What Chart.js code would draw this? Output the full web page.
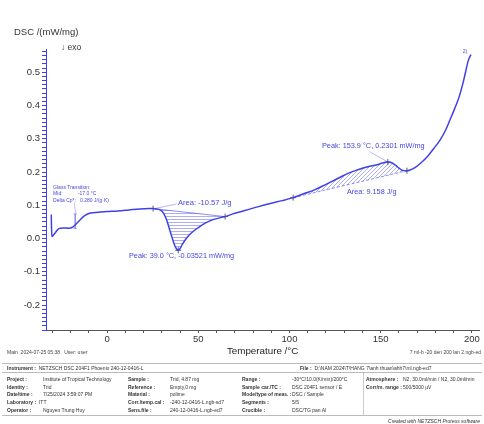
<!DOCTYPE html>
<html>
<head>
<meta charset="utf-8">
<script src="https://cdn.jsdelivr.net/npm/chart.js@4.4.1/dist/chart.umd.min.js"></script>
<style>
  body { margin: 0; background: #fff; font-family: "Liberation Sans", Arial, sans-serif; }
  #wrap { position: relative; width: 484px; height: 424px; overflow: hidden; }
  #box { position: absolute; left: 0; top: 0; width: 484px; height: 362px; }
  .t { position: absolute; white-space: nowrap; color: #222; }
  .small { font-size: 5px; color: #444; }
  .info { position: absolute; left: 0; top: 362px; width: 484px; height: 62px; font-size: 5px; color: #333; }
  .info .t { color: #333; }
  .info b { font-weight: bold; }
  .rule { position: absolute; left: 2px; width: 480px; height: 0; border-top: 1px solid #bbb; }
</style>
</head>
<body>
<div id="wrap">
  <div id="box"><canvas id="dscChart"></canvas></div>
  <div class="t" style="left:14px;top:26px;font-size:9.5px;color:#333;">DSC /(mW/mg)</div>
  <div class="t" style="left:61px;top:42px;font-size:8.5px;color:#333;">&#8595; exo</div>
  <div class="t small" style="left:7px;top:349px;">Main&nbsp;&nbsp;2024-07-25 05:38&nbsp;&nbsp;&nbsp;User: user</div>
  <div class="t small" style="right:3px;top:349px;">7 ml-b -20 den 200 lan 2.ngb-ed</div>
  <div class="info">
    <div class="rule" style="top:1px;"></div>
    <div class="t" style="left:7px;top:3px;"><b>Instrument :</b>&nbsp; NETZSCH DSC 204F1 Phoenix 240-12-0416-L</div>
    <div class="t" style="left:300px;top:3px;"><b>File :</b>&nbsp; D:\NAM 2024\T\HANG 7\anh thuan\ahh7\ml.ngb-ed7</div>
    <div class="rule" style="top:10px;"></div>
    <div class="t" style="left:7px;top:14px;"><b>Project :</b></div>
    <div class="t" style="left:43px;top:14px;">Institute of Tropical Technology</div>
    <div class="t" style="left:7px;top:22px;"><b>Identity :</b></div>
    <div class="t" style="left:43px;top:22px;">Trid</div>
    <div class="t" style="left:7px;top:29px;"><b>Date/time :</b></div>
    <div class="t" style="left:43px;top:29px;">7/25/2024 3:59:07 PM</div>
    <div class="t" style="left:7px;top:37px;"><b>Laboratory :</b>&nbsp; ITT</div>
    <div class="t" style="left:7px;top:45px;"><b>Operator :</b></div>
    <div class="t" style="left:43px;top:45px;">Nguyen Trung Huy</div>

    <div class="t" style="left:128px;top:14px;"><b>Sample :</b></div>
    <div class="t" style="left:170px;top:14px;">Trid, 4.87 mg</div>
    <div class="t" style="left:128px;top:22px;"><b>Reference :</b></div>
    <div class="t" style="left:170px;top:22px;">Empty,0 mg</div>
    <div class="t" style="left:128px;top:29px;"><b>Material :</b></div>
    <div class="t" style="left:170px;top:29px;">polime</div>
    <div class="t" style="left:128px;top:37px;"><b>Corr./temp.cal :</b></div>
    <div class="t" style="left:170px;top:37px;">-240-12-0416-L.ngb-sd7</div>
    <div class="t" style="left:128px;top:45px;"><b>Sens.file :</b></div>
    <div class="t" style="left:170px;top:45px;">240-12-0416-L.ngb-ed7</div>

    <div class="t" style="left:242px;top:14px;"><b>Range :</b></div>
    <div class="t" style="left:292px;top:14px;">-30°C/10.0(K/min)/200°C</div>
    <div class="t" style="left:242px;top:22px;"><b>Sample car./TC :</b></div>
    <div class="t" style="left:292px;top:22px;">DSC 204F1 sensor / E</div>
    <div class="t" style="left:242px;top:29px;"><b>Mode/type of meas. :</b></div>
    <div class="t" style="left:292px;top:29px;">DSC / Sample</div>
    <div class="t" style="left:242px;top:37px;"><b>Segments :</b></div>
    <div class="t" style="left:292px;top:37px;">5/5</div>
    <div class="t" style="left:242px;top:45px;"><b>Crucible :</b></div>
    <div class="t" style="left:292px;top:45px;">DSC/TG pan Al</div>

    <div style="position:absolute;left:363px;top:11px;width:0;height:42px;border-left:1px solid #ccc;"></div>
    <div class="t" style="left:366px;top:14px;"><b>Atmosphere :</b></div>
    <div class="t" style="left:403px;top:14px;">N2, 30.0ml/min / N2, 30.0ml/min</div>
    <div class="t" style="left:366px;top:22px;"><b>Corr/m. range :</b></div>
    <div class="t" style="left:403px;top:22px;">500/5000 µV</div>
    <div class="rule" style="top:53px;"></div>
    <div class="t" style="right:4px;top:56px;font-style:italic;">Created with NETZSCH Proteus software</div>
  </div>
</div>
<script>
const temperature = [-30.6, -30.5, -30.3, -29.2, -27.5, -26.5, -24, -21, -19, -17, -15, -13, -11, -9, -5, 0, 6, 12, 18, 23, 25.2,
  27, 29.5, 31, 32.5, 34, 35.5, 37, 38.2, 39, 40, 41.5, 43.5, 46, 50, 54, 58, 64.7, 70, 76, 83, 90, 96, 102, 107, 114, 120,
  127, 132, 137.5, 143, 148, 151, 153.9, 156, 158, 160, 162, 164.4, 166, 169, 172, 175.5, 179, 182.6, 185.5, 188, 190.5,
  193, 195, 196.5, 198, 199.5];
const dsc = [0.072, 0.04, 0.006, 0.012, 0.024, 0.03, 0.032, 0.031, 0.034, 0.044, 0.055, 0.066, 0.073, 0.077, 0.079, 0.081,
  0.083, 0.086, 0.089, 0.09, 0.09, 0.089, 0.085, 0.076, 0.058, 0.032, 0.005, -0.02, -0.032, -0.0352, -0.03, -0.015, 0.001,
  0.016, 0.033, 0.047, 0.057, 0.066, 0.076, 0.085, 0.096, 0.106, 0.114, 0.123, 0.133, 0.147, 0.163, 0.182, 0.196, 0.207,
  0.216, 0.222, 0.227, 0.2301, 0.228, 0.221, 0.212, 0.205, 0.204, 0.206, 0.214, 0.227, 0.246, 0.27, 0.297, 0.325, 0.357,
  0.39, 0.426, 0.465, 0.5, 0.535, 0.553];

// evaluated effects
const peak1Base = [[25.2, 0.09], [64.7, 0.066]];
const peak2Base = [[102, 0.123], [164.4, 0.204]];
const peakPoints = [[39.0, -0.03521], [153.9, 0.2301]];
const glassMarks = [[-18.5, 0.074], [-16.5, 0.074], null, [-17.5, 0.074], [-17.5, 0.03], null, [-18.5, 0.03], [-16.5, 0.03]];

const xTicksMajor = [0, 50, 100, 150, 200];
const yTicksMajor = [-0.2, -0.1, 0.0, 0.1, 0.2, 0.3, 0.4, 0.5];

const blue = 'rgb(64,64,232)';
const textBlue = 'rgb(70,70,225)';
const fontFamily = '"Liberation Sans", Arial, sans-serif';

const labels = [
  { x: -29.6, y: 0.153, text: 'Glass Transition:', size: 5 },
  { x: -29.6, y: 0.134, text: 'Mid:', size: 5 },
  { x: -16, y: 0.134, text: '-17.0 °C', size: 5 },
  { x: -29.6, y: 0.114, text: 'Delta Cp*:', size: 5 },
  { x: -14.8, y: 0.114, text: '0.280 J/(g·K)', size: 5 },
  { x: 38.9, y: 0.108, text: 'Area: -10.57 J/g', size: 7.5 },
  { x: 12, y: -0.051, text: 'Peak: 39.0 °C, -0.03521 mW/mg', size: 7.3 },
  { x: 117.8, y: 0.277, text: 'Peak: 153.9 °C, 0.2301 mW/mg', size: 7.3 },
  { x: 131.5, y: 0.141, text: 'Area: 9.158 J/g', size: 7.3 },
  { x: 195, y: 0.562, text: '2)', size: 5 },
];

function pts(list) {
  return list.map(p => p ? { x: p[0], y: p[1] } : { x: NaN, y: null });
}

function segment(t0, t1) {
  let out = [];
  for (let i = 0; i < temperature.length; i++) {
    if (temperature[i] >= t0 - 1e-9 && temperature[i] <= t1 + 1e-9) out.push({ x: temperature[i], y: dsc[i] });
  }
  return out;
}

function hatch(kind) {
  let c = document.createElement('canvas');
  c.width = 4; c.height = kind === 'h' ? 3 : 4;
  let g = c.getContext('2d');
  g.strokeStyle = 'rgba(90,90,230,0.7)';
  g.lineWidth = 0.7;
  g.beginPath();
  if (kind === 'h') {
    g.moveTo(0, 0.5); g.lineTo(4, 0.5);
  } else {
    g.moveTo(0, 4); g.lineTo(4, 0);
    g.moveTo(-1, 1); g.lineTo(1, -1);
    g.moveTo(3, 5); g.lineTo(5, 3);
  }
  g.stroke();
  return g.createPattern(c, 'repeat');
}

const labelPlugin = {
  id: 'labels',
  afterDatasetsDraw(chart) {
    const ctx = chart.ctx, xs = chart.scales.x, ys = chart.scales.y;
    ctx.save();
    ctx.fillStyle = textBlue;
    ctx.textBaseline = 'middle';
    ctx.textAlign = 'left';
    for (const l of labels) {
      ctx.font = l.size + 'px ' + fontFamily;
      ctx.fillText(l.text, xs.getPixelForValue(l.x), ys.getPixelForValue(l.y));
    }
    ctx.restore();
  }
};

const thin = { borderWidth: 0.6, pointRadius: 0, fill: false };

const data = {
  datasets: [
    { data: temperature.map((t, i) => ({ x: t, y: dsc[i] })), borderColor: blue, borderWidth: 1.5, pointRadius: 0, fill: false, cubicInterpolationMode: 'monotone', order: 0 },
    { data: segment(25.2, 64.7), borderColor: 'rgba(0,0,0,0)', borderWidth: 0, pointRadius: 0, cubicInterpolationMode: 'monotone', fill: 2, backgroundColor: hatch('h'), order: 5 },
    { data: pts(peak1Base), borderColor: 'rgba(80,80,230,0.8)', borderWidth: 0.8, pointStyle: 'cross', pointRadius: 3, pointBorderColor: '#333', pointBorderWidth: 0.8, fill: false, order: 1 },
    { data: segment(102, 164.4), borderColor: 'rgba(0,0,0,0)', borderWidth: 0, pointRadius: 0, cubicInterpolationMode: 'monotone', fill: 4, backgroundColor: hatch('d'), order: 5 },
    { data: pts(peak2Base), borderColor: 'rgba(80,80,230,0.8)', borderWidth: 0.8, borderDash: [3, 2], pointStyle: 'cross', pointRadius: 3, pointBorderColor: '#333', pointBorderWidth: 0.8, fill: false, order: 1 },
    { data: pts(peakPoints), showLine: false, pointStyle: 'cross', pointRadius: 3, pointBorderColor: '#333', pointBorderWidth: 0.8, order: 1 },
    Object.assign({ data: pts(glassMarks), borderColor: 'rgba(80,80,230,0.7)', spanGaps: false, order: 1 }, thin),
    Object.assign({ data: pts([[144, 0.261], [153.9, 0.2301]]), borderColor: 'rgba(80,80,230,0.7)', order: 1 }, thin),
    Object.assign({ data: pts([[26, 0.09], [38.2, 0.104]]), borderColor: 'rgba(80,80,230,0.7)', order: 1 }, thin),
    Object.assign({ data: pts([[-18, 0.108], [-17.2, 0.074]]), borderColor: 'rgba(80,80,230,0.6)', order: 1 }, thin),
  ]
};

const config = {
  type: 'line',
  data: data,
  plugins: [labelPlugin],
  options: {
    responsive: true,
    maintainAspectRatio: false,
    animation: false,
    events: [],
    layout: { padding: { left: 0, right: 4, top: 49, bottom: 0 } },
    plugins: { legend: { display: false }, tooltip: { enabled: false }, filler: { propagate: false } },
    scales: {
      x: {
        type: 'linear',
        min: -33.5,
        max: 204,
        afterFit: s => { s.height = 32; },
        border: { color: '#555', width: 1 },
        grid: { drawOnChartArea: false, drawTicks: true, tickLength: 3, tickColor: '#555' },
        ticks: {
          stepSize: 10,
          includeBounds: false,
          autoSkip: false,
          maxRotation: 0,
          padding: 1,
          color: '#333',
          font: { family: fontFamily, size: 9.5 },
          callback: v => xTicksMajor.includes(Math.round(v)) && Math.abs(v - Math.round(v)) < 1e-6 ? String(Math.round(v)) : ''
        },
        title: {
          display: true,
          text: 'Temperature /°C',
          color: '#222',
          padding: { top: 0, bottom: 5 },
          font: { family: fontFamily, size: 9.8 }
        }
      },
      y: {
        type: 'linear',
        min: -0.275,
        max: 0.57,
        afterFit: s => { s.width = 46; },
        border: { color: blue, width: 1 },
        grid: { drawOnChartArea: false, drawTicks: true, tickLength: 4, tickColor: blue },
        ticks: {
          stepSize: 0.0125,
          includeBounds: false,
          autoSkip: false,
          padding: 2,
          color: '#333',
          font: { family: fontFamily, size: 9.5 },
          callback: v => {
            const r = Math.round(v * 10) / 10;
            return Math.abs(v - r) < 1e-6 && yTicksMajor.includes(r) ? r.toFixed(1) : '';
          }
        }
      }
    }
  }
};

window.dscChart = new Chart(document.getElementById('dscChart').getContext('2d'), config);
</script>
</body>
</html>
